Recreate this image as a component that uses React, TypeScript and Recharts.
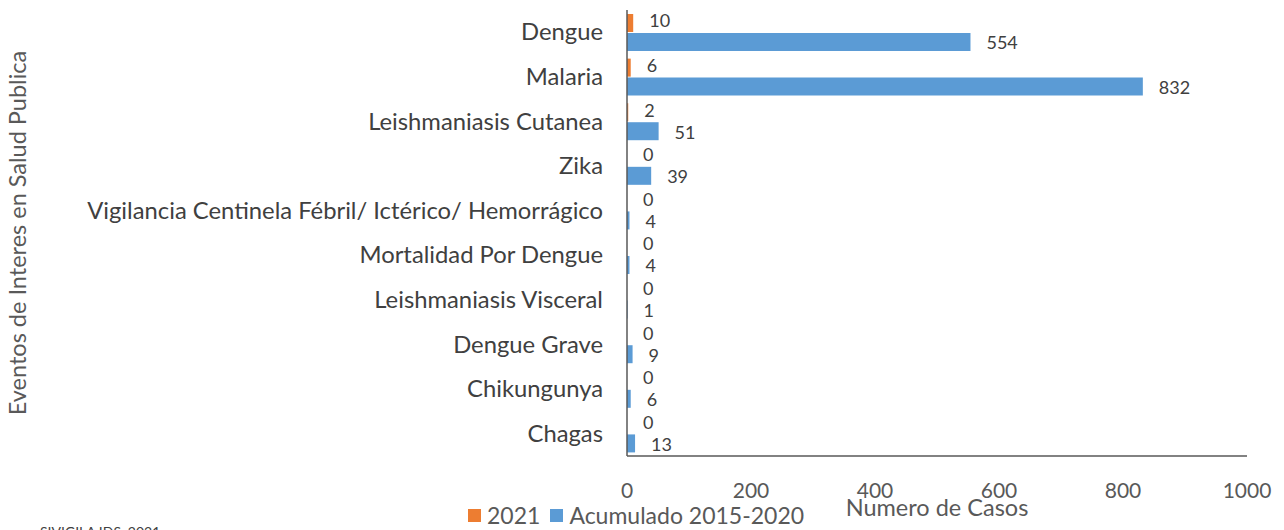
import React from 'react';
import { BarChart, Bar, XAxis, YAxis, LabelList, Legend, Label } from 'recharts';

const categories = [
  'Dengue',
  'Malaria',
  'Leishmaniasis Cutanea',
  'Zika',
  'Vigilancia Centinela Fébril/ Ictérico/ Hemorrágico',
  'Mortalidad Por Dengue',
  'Leishmaniasis Visceral',
  'Dengue Grave',
  'Chikungunya',
  'Chagas',
];
const values2021 = [10, 6, 2, 0, 0, 0, 0, 0, 0, 0];
const valuesAcum = [554, 832, 51, 39, 4, 4, 1, 9, 6, 13];
const xTicks = [0, 200, 400, 600, 800, 1000];
const seriesNames = ['2021', 'Acumulado 2015-2020'];
const seriesColors = ['#ED7D31', '#5B9BD5'];

const data = categories.map((c, i) => ({ name: c, y2021: values2021[i], acum: valuesAcum[i] }));

const FONT = 'Lato, "Open Sans", sans-serif';

const YTick = (props: any) => {
  const { x, y, payload } = props;
  return (
    <text x={x - 16} y={y} dy={8} textAnchor="end" fontSize={23.8} fill="#404040" fontFamily={FONT}>
      {payload.value}
    </text>
  );
};

const XTick = (props: any) => {
  const { x, y, payload } = props;
  return (
    <text x={x} y={y} dy={34} textAnchor="middle" fontSize={21} fill="#595959" fontFamily={FONT}>
      {payload.value}
    </text>
  );
};

const LegendContent = () => (
  <div style={{ display: 'flex', alignItems: 'center', fontFamily: FONT, fontSize: 23, color: '#595959', whiteSpace: 'nowrap' }}>
    {seriesNames.map((n, i) => (
      <span key={n} style={{ display: 'flex', alignItems: 'center', marginRight: 10 }}>
        <span style={{ display: 'inline-block', width: 13, height: 13, background: seriesColors[i], marginRight: 6 }} />
        {n}
      </span>
    ))}
  </div>
);

const zeroMin = (v: any) => (v === 0 ? 0.01 : 0);

export default function App() {
  return (
    <div style={{ position: 'absolute', left: 0, top: 0, width: 1284, height: 530, background: '#fff', overflow: 'hidden' }}>
      <BarChart
        width={1284}
        height={530}
        data={data}
        layout="vertical"
        margin={{ top: 10, right: 37, bottom: 0, left: 0 }}
        barCategoryGap="9%"
        barGap={1}
      >
        <XAxis
          type="number"
          domain={[0, 1000]}
          ticks={xTicks}
          height={74}
          tickLine={false}
          axisLine={{ stroke: '#595959', strokeWidth: 1.5 }}
          tick={<XTick />}
          interval={0}
        >
          <Label
            content={(p: any) => {
              const vb = p.viewBox || {};
              return (
                <text x={vb.x + vb.width / 2} y={vb.y + 60} textAnchor="middle" fontSize={23.5} fill="#595959" fontFamily={FONT}>
                  Numero de Casos
                </text>
              );
            }}
          />
        </XAxis>
        <YAxis
          type="category"
          dataKey="name"
          width={627}
          tickLine={false}
          axisLine={{ stroke: '#595959', strokeWidth: 1.5 }}
          tick={<YTick />}
          interval={0}
        >
          <Label
            content={(p: any) => {
              const vb = p.viewBox || {};
              const cx = vb.x + 18;
              const cy = vb.y + vb.height / 2;
              return (
                <text x={cx} y={cy} transform={`rotate(-90, ${cx}, ${cy})`} dy={8} textAnchor="middle" fontSize={23.5} fill="#595959" fontFamily={FONT}>
                  Eventos de Interes en Salud Publica
                </text>
              );
            }}
          />
        </YAxis>
        <Legend
          layout="horizontal"
          verticalAlign="middle"
          align="center"
          wrapperStyle={{ position: 'absolute', left: 468, top: 501, width: 'auto' }}
          content={<LegendContent />}
        />
        <Bar dataKey="y2021" name={seriesNames[0]} fill={seriesColors[0]} isAnimationActive={false} minPointSize={zeroMin}>
          <LabelList dataKey="y2021" position="right" offset={16} fontSize={18} fill="#404040" fontFamily={FONT} dy={-2} />
        </Bar>
        <Bar dataKey="acum" name={seriesNames[1]} fill={seriesColors[1]} isAnimationActive={false}>
          <LabelList dataKey="acum" position="right" offset={16} fontSize={18} fill="#404040" fontFamily={FONT} dy={1} />
        </Bar>
      </BarChart>
      <div style={{ position: 'absolute', left: 40, top: 523, fontFamily: FONT, fontSize: 14, color: '#404040', whiteSpace: 'nowrap' }}>
        SIVIGILA IDS, 2021
      </div>
    </div>
  );
}
